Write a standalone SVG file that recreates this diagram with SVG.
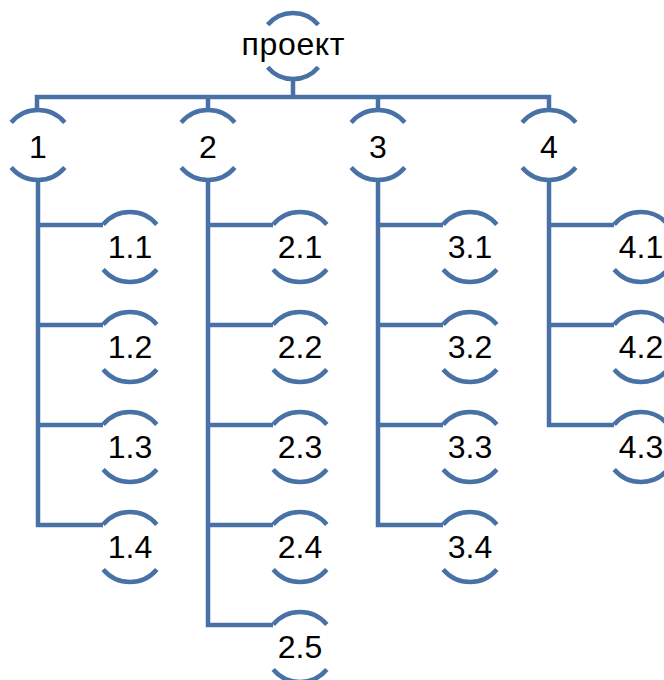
<svg xmlns="http://www.w3.org/2000/svg" xmlns:xlink="http://www.w3.org/1999/xlink" width="664" height="680" viewBox="0 0 664 680">
<style>
.ring{fill:none;stroke:#4872a6;stroke-width:4.5}
.conn{fill:none;stroke:#4872a6;stroke-width:4.5;stroke-linejoin:miter}
.lbl{font-family:"Liberation Sans",Arial,sans-serif;font-size:32px;fill:#000;text-anchor:middle}
</style>
<defs>
<g id="ring">
<path class="ring" d="M-26.8,-22.5 A35,35 0 0 1 26.8,-22.5"/>
<path class="ring" d="M-26.8,22.5 A35,35 0 0 0 26.8,22.5"/>
</g>
</defs>
<rect width="664" height="680" fill="#fff"/>
<g id="connectors">
<path class="conn" d="M293,79 V97 M37,110 V97 H549 V110 M208,97 V110 M378,97 V110"/>
<path class="conn" d="M38,180 V525 H103 M38,225 H103 M38,325 H103 M38,425 H103"/>
<path class="conn" d="M208,180 V625 H273 M208,225 H273 M208,325 H273 M208,425 H273 M208,525 H273"/>
<path class="conn" d="M378,180 V525 H443 M378,225 H443 M378,325 H443 M378,425 H443"/>
<path class="conn" d="M549,180 V425 H614 M549,225 H614 M549,325 H614"/>
</g>
<g id="n-project">
<path class="ring" d="M-25.3,-21.2 A33,33 0 0 1 25.3,-21.2" transform="translate(293,46)"/>
<path class="ring" d="M-25.3,21.2 A33,33 0 0 0 25.3,21.2" transform="translate(293,46)"/>
<text class="lbl" x="293" y="55" textLength="103" lengthAdjust="spacing">проект</text>
</g>
<g id="n1"><use xlink:href="#ring" x="38" y="145"/><text class="lbl" x="38" y="158">1</text></g>
<g id="n2"><use xlink:href="#ring" x="208" y="145"/><text class="lbl" x="208" y="158">2</text></g>
<g id="n3"><use xlink:href="#ring" x="378" y="145"/><text class="lbl" x="378" y="158">3</text></g>
<g id="n4"><use xlink:href="#ring" x="549" y="145"/><text class="lbl" x="549" y="158">4</text></g>
<g id="n1-1"><use xlink:href="#ring" x="130" y="247"/><text class="lbl" x="130" y="258">1.1</text></g>
<g id="n1-2"><use xlink:href="#ring" x="130" y="347"/><text class="lbl" x="130" y="358">1.2</text></g>
<g id="n1-3"><use xlink:href="#ring" x="130" y="447"/><text class="lbl" x="130" y="458">1.3</text></g>
<g id="n1-4"><use xlink:href="#ring" x="130" y="547"/><text class="lbl" x="130" y="558">1.4</text></g>
<g id="n2-1"><use xlink:href="#ring" x="300" y="247"/><text class="lbl" x="300" y="258">2.1</text></g>
<g id="n2-2"><use xlink:href="#ring" x="300" y="347"/><text class="lbl" x="300" y="358">2.2</text></g>
<g id="n2-3"><use xlink:href="#ring" x="300" y="447"/><text class="lbl" x="300" y="458">2.3</text></g>
<g id="n2-4"><use xlink:href="#ring" x="300" y="547"/><text class="lbl" x="300" y="558">2.4</text></g>
<g id="n2-5"><use xlink:href="#ring" x="300" y="647"/><text class="lbl" x="300" y="658">2.5</text></g>
<g id="n3-1"><use xlink:href="#ring" x="470" y="247"/><text class="lbl" x="470" y="258">3.1</text></g>
<g id="n3-2"><use xlink:href="#ring" x="470" y="347"/><text class="lbl" x="470" y="358">3.2</text></g>
<g id="n3-3"><use xlink:href="#ring" x="470" y="447"/><text class="lbl" x="470" y="458">3.3</text></g>
<g id="n3-4"><use xlink:href="#ring" x="470" y="547"/><text class="lbl" x="470" y="558">3.4</text></g>
<g id="n4-1"><use xlink:href="#ring" x="641" y="247"/><text class="lbl" x="641" y="258">4.1</text></g>
<g id="n4-2"><use xlink:href="#ring" x="641" y="347"/><text class="lbl" x="641" y="358">4.2</text></g>
<g id="n4-3"><use xlink:href="#ring" x="641" y="447"/><text class="lbl" x="641" y="458">4.3</text></g>
</svg>
